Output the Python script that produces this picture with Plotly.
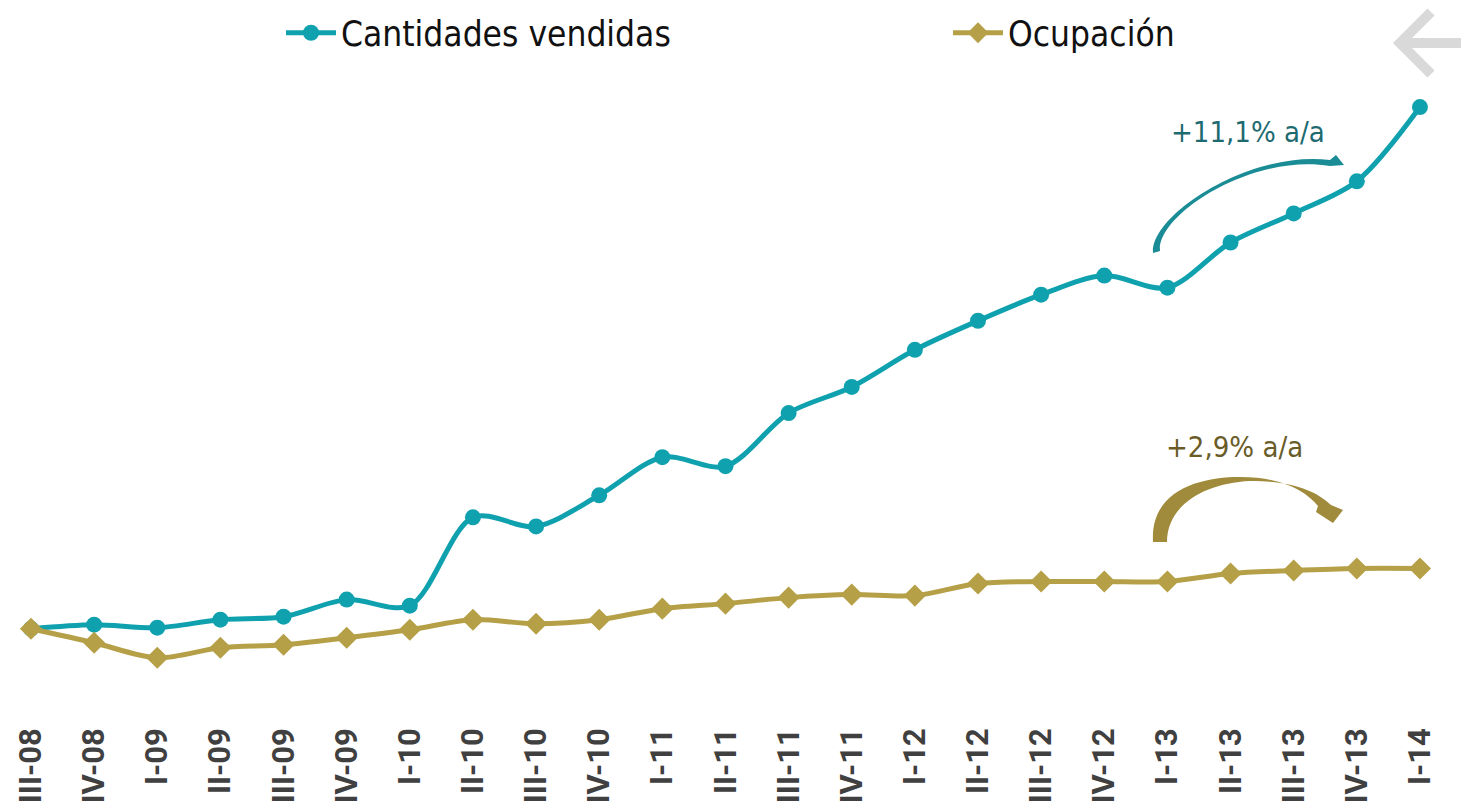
import plotly.graph_objects as go

# ---- data (index, III-08 = 100) ----
quarters = ["III-08", "IV-08", "I-09", "II-09", "III-09", "IV-09", "I-10", "II-10",
            "III-10", "IV-10", "I-11", "II-11", "III-11", "IV-11", "I-12", "II-12",
            "III-12", "IV-12", "I-13", "II-13", "III-13", "IV-13", "I-14"]
cantidades = [100.0, 101.0, 100.25, 102.25, 103.0, 107.25, 105.75, 127.75,
              125.5, 133.25, 142.75, 140.5, 153.75, 160.25, 169.5, 176.75,
              183.25, 188.0, 185.0, 196.25, 203.5, 211.5, 230.0]
ocupacion = [100.0, 96.5, 92.75, 95.25, 96.0, 97.75, 99.75, 102.25,
             101.25, 102.25, 105.0, 106.25, 107.75, 108.5, 108.25, 111.25,
             111.75, 111.75, 111.75, 113.75, 114.5, 115.0, 115.0]
names = ["Cantidades vendidas", "Ocupación"]
notes = ["+11,1% a/a", "+2,9% a/a"]

W, H = 1461, 801
ML, MR, MT, MB = 0, 0, 80, 80
PW, PH = W - ML - MR, H - MT - MB

NARROW = "Liberation Sans Narrow, Arial Narrow, DejaVu Sans Condensed, sans-serif"
TICKF = "Roboto, Liberation Sans, sans-serif"
TEAL = "#10A1AF"
GOLD = "#B5A047"


def px(X, Y):
    return (X - ML) / PW, (H - MB - Y) / PH


def path(cmds):
    out = []
    for c in cmds:
        if isinstance(c, str):
            out.append(c)
        else:
            x, y = px(*c)
            out.append(f"{x:.5f},{y:.5f}")
    return " ".join(out)


x = list(range(len(quarters)))

fig = go.Figure()
fig.add_trace(go.Scatter(
    x=x, y=cantidades, name=names[0], mode="lines+markers",
    line=dict(color=TEAL, width=5, shape="spline", smoothing=0.9),
    marker=dict(symbol="circle", size=16, color=TEAL),
    legend="legend",
))
fig.add_trace(go.Scatter(
    x=x, y=ocupacion, name=names[1], mode="lines+markers",
    line=dict(color=GOLD, width=5, shape="spline", smoothing=0.9),
    marker=dict(symbol="diamond", size=17, color=GOLD),
    legend="legend2",
))

lx1, ly = px(281, 33)
lx2, _ = px(948, 33)
legfont = dict(family=NARROW, size=35, color="#111111")

fig.update_layout(
    width=W, height=H,
    margin=dict(l=ML, r=MR, t=MT, b=MB, autoexpand=False),
    paper_bgcolor="white", plot_bgcolor="white",
    showlegend=True,
    legend=dict(x=lx1, y=ly, xanchor="left", yanchor="middle", orientation="h",
                font=legfont, bgcolor="rgba(0,0,0,0)", itemwidth=50),
    legend2=dict(x=lx2, y=ly, xanchor="left", yanchor="middle", orientation="h",
                 font=legfont, bgcolor="rgba(0,0,0,0)", itemwidth=50),
    xaxis=dict(
        range=[-0.491, 22.65], tickmode="array", tickvals=x, ticktext=quarters,
        tickangle=-90, showgrid=False, zeroline=False, showline=False,
        ticks="", automargin=False,
        tickfont=dict(family=TICKF, size=31, color="#404040", weight="bold"),
    ),
    yaxis=dict(range=[77.0, 236.75], visible=False, showgrid=False, zeroline=False),
)

# growth annotations
ax, ay = px(1248, 132)
fig.add_annotation(x=ax, y=ay, xref="paper", yref="paper", text=notes[0],
                   xanchor="center", yanchor="middle", showarrow=False,
                   font=dict(family=NARROW, size=29, color="#1E6A71"))
ax, ay = px(1234, 447)
fig.add_annotation(x=ax, y=ay, xref="paper", yref="paper", text=notes[1],
                   xanchor="center", yanchor="middle", showarrow=False,
                   font=dict(family=NARROW, size=29, color="#6A5C28"))

# curved arrows
teal_arrow = path(["M", (1153, 253), "C", (1150, 215), (1250, 150), (1330, 160),
                   "L", (1336, 155), "L", (1344, 165), "L", (1330, 166),
                   "C", (1250, 153), (1156, 216), (1160, 251), "Z"])
gold_arrow = path(["M", (1153, 542), "C", (1150, 490), (1200, 477), (1240, 477),
                   "C", (1280, 477), (1305, 490), (1318, 506),
                   "L", (1316, 512), "L", (1333, 523), "L", (1343, 510), "L", (1331, 505),
                   "C", (1315, 490), (1290, 481), (1250, 481),
                   "C", (1205, 483), (1167, 505), (1167, 542), "Z"])
fig.add_shape(type="path", path=teal_arrow, xref="paper", yref="paper",
              fillcolor="#1A8C96", line=dict(width=0))
fig.add_shape(type="path", path=gold_arrow, xref="paper", yref="paper",
              fillcolor="#A08A3B", line=dict(width=0))

# grey back-arrow icon
back = path(["M", (1461, 43), "L", (1398, 43), "M", (1431, 12), "L", (1400, 43), "L", (1431, 74)])
fig.add_shape(type="path", path=back, xref="paper", yref="paper",
              fillcolor="rgba(0,0,0,0)", line=dict(color="#D9D9D9", width=10))

fig.write_html("out.html", config={"displayModeBar": False},
               post_script="document.body.style.margin='0';document.body.style.overflow='hidden';")
